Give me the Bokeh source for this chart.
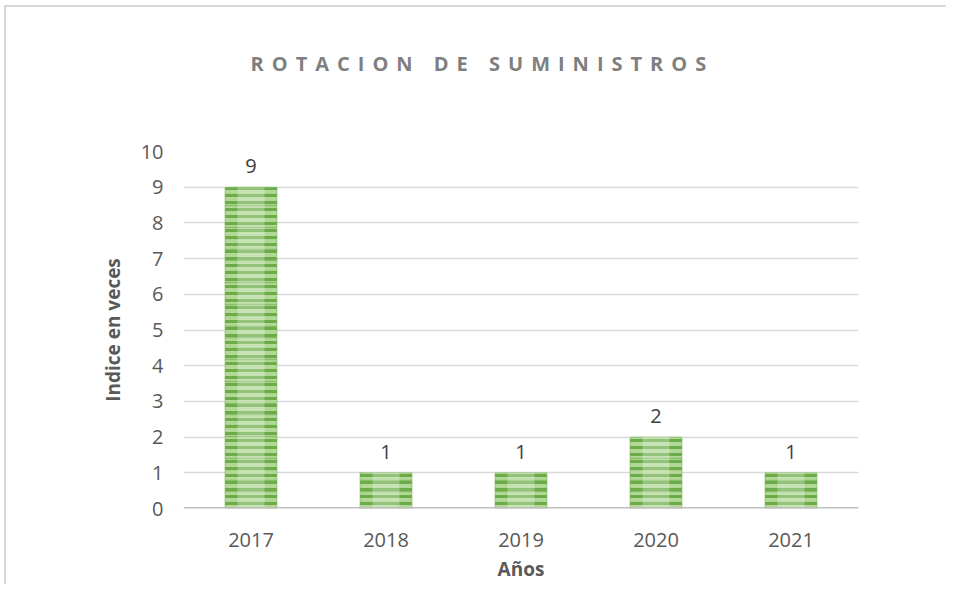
from bokeh.plotting import figure
from bokeh.layouts import column
from bokeh.models import ColumnDataSource, LabelSet, Label, Span, FactorRange, FixedTicker
from bokeh.core.properties import value
from bokeh.embed import file_html
from bokeh.resources import INLINE

# ---- data ----
years = ["2017", "2018", "2019", "2020", "2021"]
values = [9, 1, 1, 2, 1]
y_ticks = [0, 1, 2, 3, 4, 5, 6, 7, 8, 9, 10]
title_text = "ROTACION DE SUMINISTROS"
y_label = "Indice en veces"
x_label = "Años"

FONT = "Open Sans"
TXT = "#595959"
W, TH, MH = 946, 100, 484

src = ColumnDataSource(dict(x=years, top=values, label=[str(v) for v in values]))

bg = ("linear-gradient(#d9d9d9,#d9d9d9) 4px 5px / 2px 100% no-repeat, "
      "linear-gradient(#d9d9d9,#d9d9d9) 4px 5px / 100% 2px no-repeat, white")

# ---- title strip (own figure so the letter spacing can be applied) ----
t = figure(x_range=(0, W), y_range=(0, TH), width=W, height=TH,
           output_backend="svg", toolbar_location=None, min_border=0,
           outline_line_color=None, background_fill_color=None, border_fill_color=None,
           styles={"letter-spacing": "8px"})
t.axis.visible = False
t.grid.visible = False
t.add_layout(Label(x=94, y=37, text=title_text, text_align="left",
                   text_baseline="middle", text_font=FONT, text_font_size="20px",
                   text_font_style="bold", text_color="#7f7f7f"))

# ---- main chart ----
p = figure(x_range=FactorRange(*years), y_range=(0, 10),
           width=W, height=MH, output_backend="svg", toolbar_location=None,
           min_border_left=183, min_border_right=88, min_border_top=51, min_border_bottom=75,
           outline_line_color=None, background_fill_color="white", border_fill_color=None)

p.vbar(x="x", top="top", width=0.385, source=src,
       fill_color="#b2d898", line_color="#7fb85c", line_alpha=0.6, line_width=1,
       hatch_pattern="horizontal_line", hatch_color="#64a640", hatch_alpha=0.9,
       hatch_scale=7, hatch_weight=3)
p.vbar(x="x", top="top", width=0.385, source=src,
       fill_color=None, line_color=None,
       hatch_pattern="horizontal_line", hatch_color="#6dae49", hatch_alpha=0.6,
       hatch_scale=11, hatch_weight=1.5)
p.vbar(x="x", top="top", width=0.2, source=src,
       fill_color="white", fill_alpha=0.28, line_color=None)

p.add_layout(Span(location=0, dimension="width", line_color="#bfbfbf", line_width=3))

labels = LabelSet(x="x", y="top", text="label", source=src, text_align="center",
                  text_baseline="bottom", y_offset=14, text_font=value(FONT),
                  text_font_size=value("20px"), text_color="#404040")
p.add_layout(labels)

p.xgrid.visible = False
p.ygrid.ticker = FixedTicker(ticks=y_ticks)
p.ygrid.grid_line_color = "#d9d9d9"
p.ygrid.grid_line_width = 1.5

p.yaxis.ticker = FixedTicker(ticks=y_ticks)
for ax in (p.xaxis[0], p.yaxis[0]):
    ax.axis_line_color = None
    ax.major_tick_line_color = None
    ax.minor_tick_line_color = None
    ax.major_label_text_font = FONT
    ax.major_label_text_font_size = "20px"
    ax.major_label_text_color = TXT
    ax.axis_label_text_font = FONT
    ax.axis_label_text_font_size = "19px"
    ax.axis_label_text_font_style = "bold"
    ax.axis_label_text_color = TXT

p.yaxis.axis_label = y_label
p.yaxis.major_label_standoff = 14
p.yaxis.axis_label_standoff = 12
p.xaxis.axis_label = x_label
p.xaxis.major_label_standoff = 18
p.xaxis.axis_label_standoff = 6

layout = column(t, p, spacing=0, styles={"background": bg})
open("out.html", "w").write(file_html(layout, INLINE))
